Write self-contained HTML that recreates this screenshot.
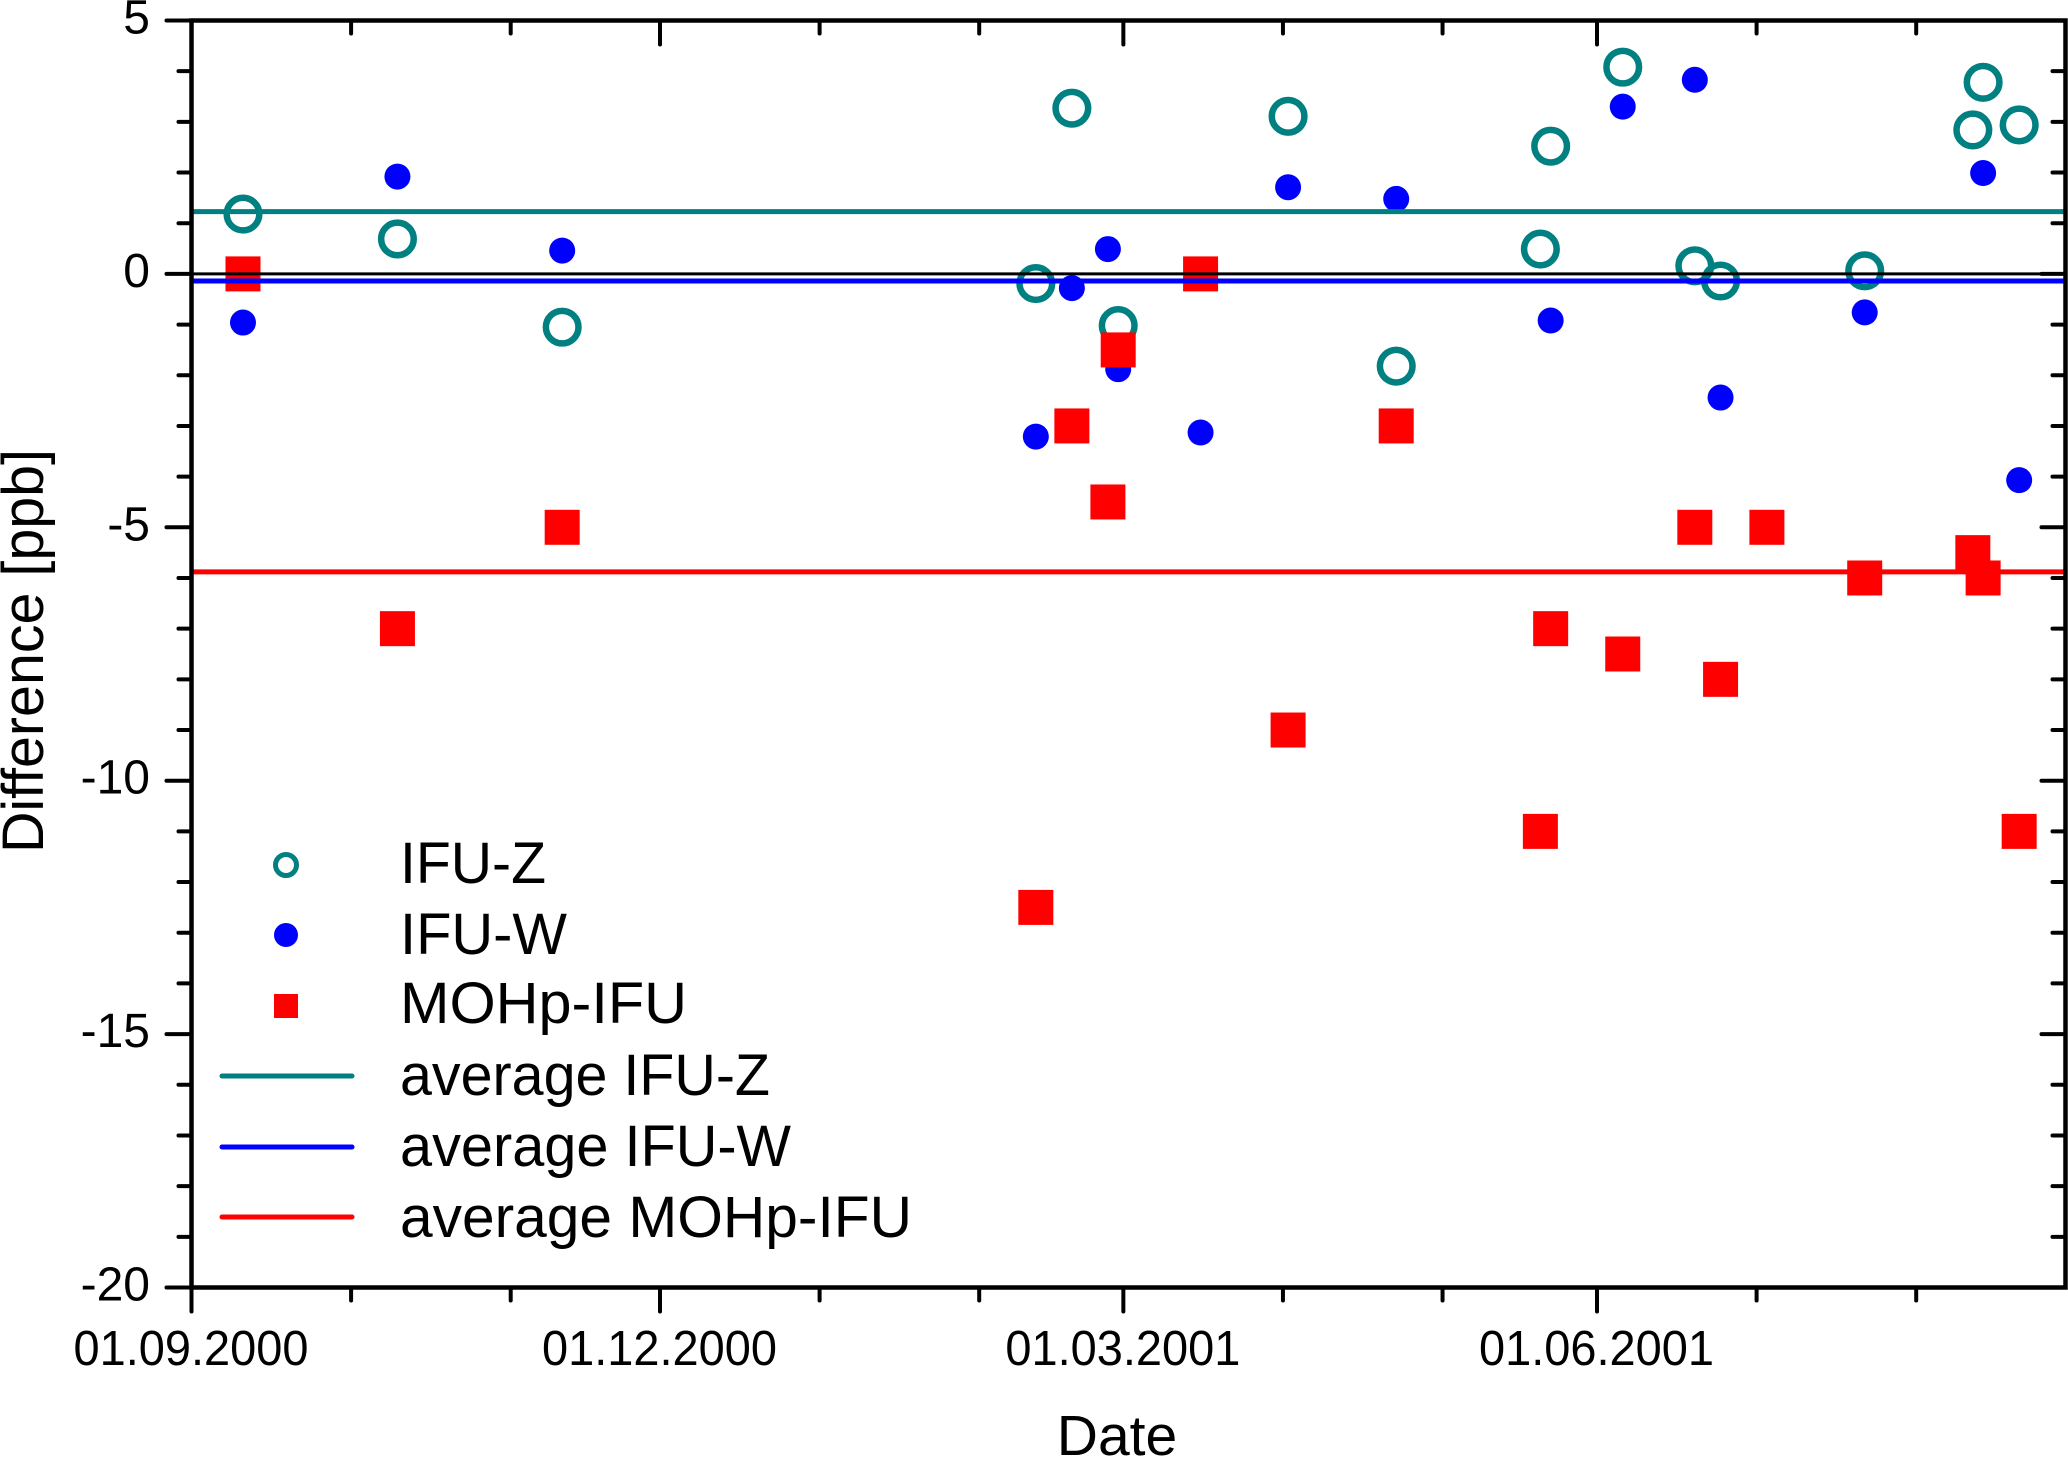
<!DOCTYPE html>
<html>
<head>
<meta charset="utf-8">
<title>Difference chart</title>
<style>
html,body{margin:0;padding:0;background:#fff;width:2068px;height:1457px;overflow:hidden}
svg{display:block}
text{font-family:"Liberation Sans",Arial,sans-serif;fill:#000}
</style>
</head>
<body>
<svg id="chart" xmlns="http://www.w3.org/2000/svg" width="2068" height="1457" viewBox="0 0 2068 1457">
<rect x="0" y="0" width="2068" height="1457" fill="#ffffff"/>
</svg>
<script>
// Days since 01.09.2000
const ifuZDays = [10, 40, 72, 164, 171, 180, 213, 234, 262, 264, 278, 292, 297, 325, 346, 348, 355];
const ifuZValues = [1.18, 0.69, -1.05, -0.19, 3.27, -1.02, 3.11, -1.82, 0.49, 2.52, 4.08, 0.16, -0.14, 0.06, 2.84, 3.78, 2.94];
const ifuWDays = [10, 40, 72, 164, 171, 178, 180, 196, 213, 234, 264, 278, 292, 297, 325, 348, 355];
const ifuWValues = [-0.96, 1.92, 0.46, -3.21, -0.28, 0.49, -1.88, -3.13, 1.71, 1.48, -0.92, 3.3, 3.83, -2.44, -0.76, 1.99, -4.07];
const mohpDays = [10, 40, 72, 164, 171, 178, 180, 196, 213, 234, 262, 264, 278, 292, 297, 306, 325, 346, 348, 355];
const mohpValues = [0, -7, -5, -12.5, -3, -4.5, -1.5, 0, -9, -3, -11, -7, -7.5, -5, -8, -5, -6, -5.5, -6, -11];
const averageIfuZ = 1.23;
const averageIfuW = -0.14;
const averageMohp = -5.88;
const xMajorDays = [0, 91, 181, 273];
const xMajorLabels = ["01.09.2000", "01.12.2000", "01.03.2001", "01.06.2001"];
const xMinorDays = [31, 62, 122, 153, 212, 243, 304, 335];
const yMajorTicks = [5, 0, -5, -10, -15, -20];
const yMinorTicks = [4, 3, 2, 1, -1, -2, -3, -4, -6, -7, -8, -9, -11, -12, -13, -14, -16, -17, -18, -19];
const legendLabels = ["IFU-Z", "IFU-W", "MOHp-IFU", "average IFU-Z", "average IFU-W", "average MOHp-IFU"];

const svg = document.getElementById('chart');
const NS = 'http://www.w3.org/2000/svg';
const TEAL = '#008080', BLUE = '#0000ff', RED = '#ff0000';
const plotLeft = 191.5, plotRight = 2065.5, plotTop = 20.5, plotBottom = 1287.5;
const dayMax = 364, yMax = 5, yMin = -20;
function xAxis(d) { return plotLeft + d / dayMax * (plotRight - plotLeft); }
function yAxis(v) { return plotTop + (yMax - v) / (yMax - yMin) * (plotBottom - plotTop); }
function make(tag, props) {
  const el = document.createElementNS(NS, tag);
  for (const k in props) el.setAttribute(k, props[k]);
  svg.appendChild(el);
  return el;
}
function line(x1, y1, x2, y2, color, width, cap) {
  return make('line', {x1: x1, y1: y1, x2: x2, y2: y2, stroke: color, 'stroke-width': width, 'stroke-linecap': cap || 'butt'});
}
function ring(cx, cy, r, sw) {
  return make('circle', {cx: cx, cy: cy, r: r, fill: 'none', stroke: TEAL, 'stroke-width': sw});
}
function dot(cx, cy, r) {
  return make('circle', {cx: cx, cy: cy, r: r, fill: BLUE});
}
function square(cx, cy, s) {
  return make('rect', {x: cx - s / 2, y: cy - s / 2, width: s, height: s, fill: RED});
}
function label(str, x, y, size, anchor, len) {
  const props = {x: x, y: y, 'font-size': size, 'text-anchor': anchor || 'start'};
  if (len) { props.textLength = len; props.lengthAdjust = 'spacingAndGlyphs'; }
  const el = make('text', props);
  el.textContent = str;
  return el;
}

// Series markers
ifuZDays.forEach(function (d, i) {
  const el = ring(xAxis(d), yAxis(ifuZValues[i]), 16.3, 6.5);
  
  
});
ifuWDays.forEach(function (d, i) {
  const el = dot(xAxis(d), yAxis(ifuWValues[i]), 13);
  
  
});
mohpDays.forEach(function (d, i) {
  const el = square(xAxis(d), yAxis(mohpValues[i]), 35);
  
  
});

// Reference lines
const zeroLine = line(plotLeft, yAxis(0), plotRight, yAxis(0), '#000', 3);


const avgZ = line(plotLeft, yAxis(averageIfuZ), plotRight, yAxis(averageIfuZ), TEAL, 5);


const avgW = line(plotLeft, yAxis(averageIfuW), plotRight, yAxis(averageIfuW), BLUE, 5);


const avgM = line(plotLeft, yAxis(averageMohp), plotRight, yAxis(averageMohp), RED, 5);



// X ticks (bottom outward, top inward)
xMajorDays.forEach(function (d, i) {
  const x = xAxis(d);
  const b = line(x, plotBottom, x, plotBottom + 24, '#000', 4, 'round');
  
  
  const t = line(x, plotTop, x, plotTop + 24, '#000', 4, 'round');
  
  
  const l = label(xMajorLabels[i], x - 0.5, 1365, 49, 'middle', 235);
  
  
});
xMinorDays.forEach(function (d) {
  const x = xAxis(d);
  const b = line(x, plotBottom, x, plotBottom + 13, '#000', 4, 'round');
  
  
  const t = line(x, plotTop, x, plotTop + 13, '#000', 4, 'round');
  
  
});

// Y ticks (left outward, right inward)
yMajorTicks.forEach(function (v) {
  const y = yAxis(v);
  const a = line(plotLeft, y, plotLeft - 25, y, '#000', 4, 'round');
  
  
  const c = line(plotRight, y, plotRight - 24, y, '#000', 4, 'round');
  
  
  const l = label(String(v), 150, y + 13, 48, 'end');
  
  
});
yMinorTicks.forEach(function (v) {
  const y = yAxis(v);
  const a = line(plotLeft, y, plotLeft - 13, y, '#000', 4, 'round');
  
  
  const c = line(plotRight, y, plotRight - 13, y, '#000', 4, 'round');
  
  
});

// Axis frame
const frame = make('rect', {x: plotLeft, y: plotTop, width: plotRight - plotLeft, height: plotBottom - plotTop, fill: 'none', stroke: '#000', 'stroke-width': 4.5});



// Axis titles
const xTitle = label('Date', 1117, 1455, 57, 'middle');


const yTitle = label('Difference [ppb]', 0, 0, 58, 'middle', 404);
yTitle.setAttribute('transform', 'translate(43,651) rotate(-90)');



// Legend
const legendSymZ = ring(286, 865, 10.5, 5);


const legendSymW = dot(286, 935, 12);


const legendSymM = square(286, 1006, 24);


const legendLineZ = line(222, 1076, 352, 1076, TEAL, 5, 'round');


const legendLineW = line(222, 1147, 352, 1147, BLUE, 5, 'round');


const legendLineM = line(222, 1217, 352, 1217, RED, 5, 'round');



const legendT0 = label(legendLabels[0], 400, 883, 58, 'start', 146);


const legendT1 = label(legendLabels[1], 400, 954, 58, 'start', 167);


const legendT2 = label(legendLabels[2], 400, 1023, 58, 'start', 287);


const legendT3 = label(legendLabels[3], 400, 1095, 58, 'start', 370);


const legendT4 = label(legendLabels[4], 400, 1166, 58, 'start', 391);


const legendT5 = label(legendLabels[5], 400, 1237, 58, 'start', 512);


</script>
</body>
</html>
